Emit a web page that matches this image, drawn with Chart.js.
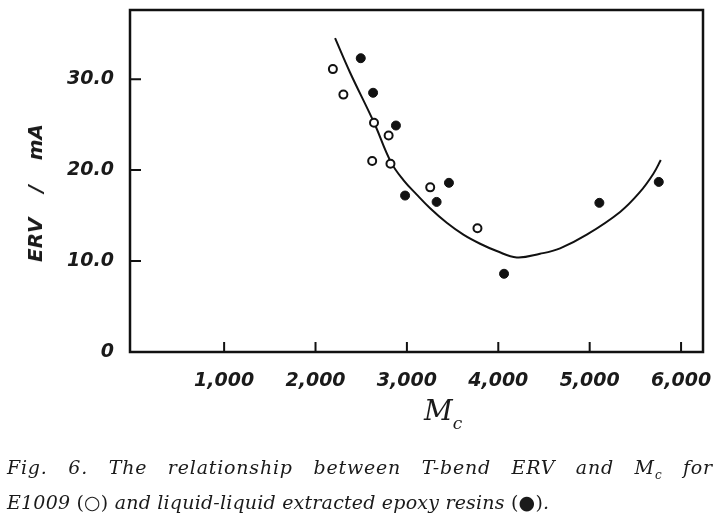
<!DOCTYPE html>
<html>
<head>
<meta charset="utf-8">
<title>T-bend ERV vs Mc</title>
<script src="https://cdn.jsdelivr.net/npm/chart.js@4.4.0/dist/chart.umd.min.js"></script>
<style>
  html, body { margin: 0; padding: 0; background: #fff; }
  #wrap { position: relative; width: 719px; height: 514px; overflow: hidden; }
  #chart { position: absolute; left: 0; top: 0; }
  .ytitle {
    position: absolute; left: 35px; top: 193px;
    transform: translate(-50%, -50%) rotate(-90deg);
    font: italic bold 20px "DejaVu Sans"; word-spacing: 18px;
    white-space: nowrap; color: #1a1a1a;
  }
  .xtitle {
    position: absolute; left: 424px; top: 394px;
    font: italic 28px "DejaVu Serif"; color: #1a1a1a; white-space: nowrap;
  }
  .xtitle sub { font-size: 17px; position: relative; top: 2px; }
  .caption {
    position: absolute; left: 7px; top: 454px; width: 706px;
    font: italic 19px "DejaVu Serif"; line-height: 27px;
    color: #1a1a1a; white-space: nowrap;
  }
  .caption .l1 { text-align: justify; text-align-last: justify; white-space: normal; letter-spacing: 0.8px; }
  .caption .l2 { letter-spacing: 0.2px; }
  .caption sub { font-size: 12px; }
  .caption .up { font-style: normal; }
</style>
</head>
<body>
<div id="wrap">
  <canvas id="chart" width="719" height="514"></canvas>
  <div class="ytitle">ERV / mA</div>
  <div class="xtitle">M<sub>c</sub></div>
  <div class="caption">
    <div class="l1">Fig. 6. The relationship between T-bend ERV and M<sub>c</sub> for</div>
    <div class="l2">E1009 <span class="up">(○)</span> and liquid-liquid extracted epoxy resins <span class="up">(●)</span>.</div>
  </div>
</div>
<script>
// E1009 (open circles)
const e1009Mc = [2190, 2305, 2640, 2800, 2620, 2820, 3255, 3772];
const e1009Erv = [31.1, 28.3, 25.2, 23.8, 21.0, 20.7, 18.1, 13.6];

// liquid-liquid extracted resins (filled circles)
const lleMc = [2495, 2630, 2880, 2980, 3325, 3460, 4063, 5106, 5756];
const lleErv = [32.3, 28.5, 24.9, 17.2, 16.5, 18.6, 8.6, 16.4, 18.7];

// fitted curve
const fitMc = [2214, 2379, 2641, 2824, 2962, 3108, 3254, 3436, 3618, 3801, 3983, 4202, 4457, 4676, 4968, 5333, 5551, 5697, 5778];
const fitErv = [34.5, 30.7, 25.2, 20.9, 18.9, 17.3, 15.8, 14.2, 12.9, 11.9, 11.1, 10.4, 10.8, 11.4, 12.9, 15.4, 17.6, 19.6, 21.1];

const xTicks = [1000, 2000, 3000, 4000, 5000, 6000];
const yTicks = [0, 10, 20, 30];

function toPoints(xs, ys) {
  return xs.map((x, i) => ({ x: x, y: ys[i] }));
}

// box round the plot and the short inward tick marks
const frameAndTicks = {
  id: "frameAndTicks",
  afterDatasetsDraw(chart) {
    const { ctx, chartArea: a, scales } = chart;
    ctx.save();
    ctx.strokeStyle = "#111";
    ctx.lineWidth = 2.5;
    ctx.strokeRect(a.left, a.top, a.right - a.left, a.bottom - a.top);
    ctx.lineWidth = 2;
    ctx.beginPath();
    xTicks.forEach((v) => {
      const px = scales.x.getPixelForValue(v);
      ctx.moveTo(px, a.bottom);
      ctx.lineTo(px, a.bottom - 10);
    });
    yTicks.forEach((v) => {
      if (v === 0) return;
      const py = scales.y.getPixelForValue(v);
      ctx.moveTo(a.left, py);
      ctx.lineTo(a.left + 11, py);
    });
    ctx.stroke();
    ctx.restore();
  },
};

const tickFont = { family: "DejaVu Sans", size: 19, style: "italic", weight: "bold" };

new Chart(document.getElementById("chart"), {
  type: "scatter",
  data: {
    datasets: [
      {
        label: "E1009",
        data: toPoints(e1009Mc, e1009Erv),
        pointStyle: "circle",
        pointRadius: 4,
        pointBorderWidth: 2,
        pointBackgroundColor: "#fff",
        pointBorderColor: "#111",
        order: 0,
      },
      {
        label: "Liquid-liquid extracted",
        data: toPoints(lleMc, lleErv),
        pointStyle: "circle",
        pointRadius: 4.5,
        pointBorderWidth: 1,
        pointBackgroundColor: "#111",
        pointBorderColor: "#111",
        order: 1,
      },
      {
        label: "Fit",
        data: toPoints(fitMc, fitErv),
        showLine: true,
        pointRadius: 0,
        borderColor: "#111",
        borderWidth: 2,
        tension: 0.4,
        order: 2,
      },
    ],
  },
  options: {
    responsive: false,
    animation: false,
    devicePixelRatio: 1,
    layout: { padding: { left: 0, top: 10, right: 16, bottom: 0 } },
    plugins: {
      legend: { display: false },
      tooltip: { enabled: false },
    },
    scales: {
      x: {
        type: "linear",
        min: -30,
        max: 6240,
        grid: { display: false },
        border: { display: false },
        afterBuildTicks: (s) => { s.ticks = xTicks.map((v) => ({ value: v })); },
        afterFit: (s) => { s.height = 162; s.paddingLeft = 0; s.paddingRight = 0; },
        ticks: {
          padding: 10,
          color: "#1a1a1a",
          font: tickFont,
          maxRotation: 0,
          callback: (v) => v.toLocaleString("en-US"),
        },
      },
      y: {
        type: "linear",
        min: 0,
        max: 37.6,
        grid: { display: false },
        border: { display: false },
        afterBuildTicks: (s) => { s.ticks = yTicks.map((v) => ({ value: v })); },
        afterFit: (s) => { s.width = 130; s.paddingTop = 0; s.paddingBottom = 0; },
        ticks: {
          padding: 8,
          color: "#1a1a1a",
          font: tickFont,
          callback: (v) => (v === 0 ? "0" : v.toFixed(1)),
        },
      },
    },
  },
  plugins: [frameAndTicks],
});
</script>
</body>
</html>
